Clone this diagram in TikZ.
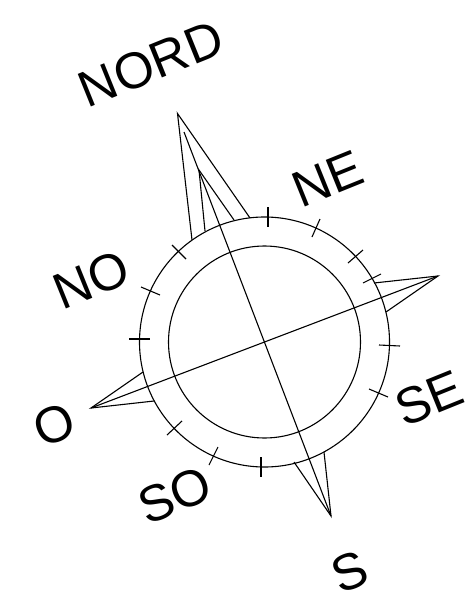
\documentclass[tikz,border=0pt]{standalone}
\usepackage{fontspec}
\setmainfont{Liberation Sans}
\begin{document}
\begin{tikzpicture}[x=1pt, y=-1pt,
    line/.style={draw=black, line width=1.1pt},
    tick/.style={draw=black, line width=1.1pt},
    lab/.style={font=\fontsize{51}{51}\selectfont, inner sep=0pt, text=black}]
    \useasboundingbox (0,0) rectangle (467,595);
    % Cercles
    \draw[line] (264.5,342) circle[radius=125];
    \draw[line] (264.5,342) circle[radius=96];
    % Axes
    \draw[line] (184,132) -- (331,516);
    \draw[line] (91,408) -- (438,276);
    % Pointe nord
    \draw[line] (192,240) -- (177.5,113.5) -- (250,218);
    \draw[line] (205,231) -- (199,170) -- (234,220);
    % Pointe sud
    \draw[line] (294,462) -- (331,516) -- (324,452);
    % Pointes est et ouest
    \draw[line] (374,283) -- (438,276) -- (386,312);
    \draw[line] (143,372) -- (91,408) -- (154,401);
    % Graduations
    \foreach \xa/\ya/\xb/\yb in {268/207/268/227, 312/237/320/219, 348/263/363/250,
        363/283/381/274, 379/345/400/346, 369/389/388/397, 261/457/261/477,
        209/465/218/447, 167/435/182/421, 129/339/150/339, 141/287/160/295,
        172/245/186/259}
      \draw[tick] (\xa,\ya) -- (\xb,\yb);
    % Directions
    \node[lab, rotate=22] (nord) at (151,64) {NORD};
    \node[lab, rotate=22] (ne) at (328,179) {NE};
    \node[lab, rotate=22] (no) at (91,280) {NO};
    \node[lab, rotate=22] (o) at (54,425) {O};
    \node[lab, rotate=22] (so) at (175,495) {SO};
    \node[lab, rotate=22] (se) at (429,398) {SE};
    \node[lab, rotate=22] (s) at (350,572) {S};
  \end{tikzpicture}
\end{document}
